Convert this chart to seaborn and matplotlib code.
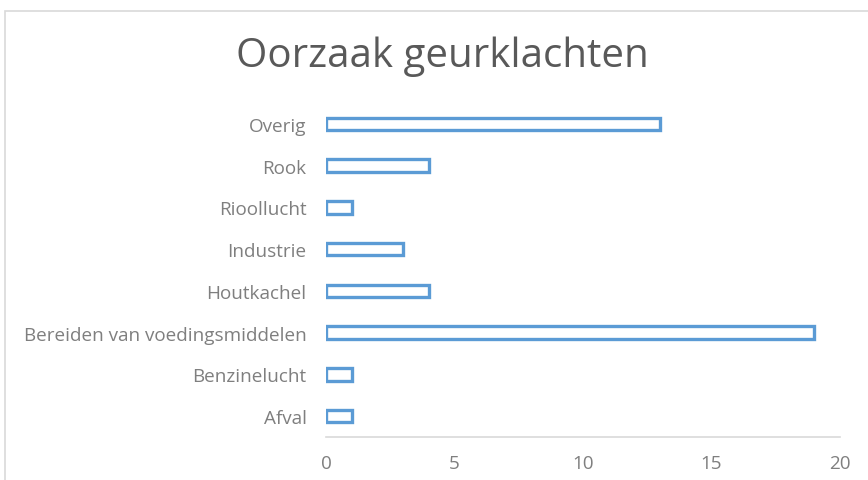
import pandas as pd
import matplotlib.pyplot as plt
from matplotlib.patches import Rectangle
import seaborn as sns

categories = ['Overig', 'Rook', 'Rioollucht', 'Industrie', 'Houtkachel',
              'Bereiden van voedingsmiddelen', 'Benzinelucht', 'Afval']
counts = [13, 4, 1, 3, 4, 19, 1, 1]

df = pd.DataFrame({'oorzaak': categories, 'aantal': counts})

sns.set_style('white')
plt.rcParams['font.family'] = ['Open Sans', 'DejaVu Sans']

fig = plt.figure(figsize=(8.68, 4.81), dpi=100)
ax = fig.add_axes([326 / 868, 43 / 481, 514 / 868, 334 / 481])

sns.barplot(data=df, x='aantal', y='oorzaak', order=categories, color='white',
            edgecolor='#5B9BD5', linewidth=2.4, width=0.3, ax=ax)

ax.set_xlim(0, 20)
ax.set_xticks([0, 5, 10, 15, 20])
ax.set_xlabel('')
ax.set_ylabel('')
ax.tick_params(axis='both', length=0, colors='#7F7F7F', labelsize=13.6)
ax.tick_params(axis='x', pad=12)
ax.tick_params(axis='y', pad=14)
for s in ['top', 'right', 'left']:
    ax.spines[s].set_visible(False)
ax.spines['bottom'].set_color('#D9D9D9')
ax.spines['bottom'].set_linewidth(1.2)

fig.text(442 / 868, 1 - 67 / 481, 'Oorzaak geurklachten', ha='center', va='baseline',
         fontsize=29, color='#595959')

# chart frame (cropped at right and bottom)
fig.patches.append(Rectangle((5 / 868, -0.1), 1.2, 0.1 + (481 - 12) / 481,
                             transform=fig.transFigure, fill=False,
                             edgecolor='#D9D9D9', linewidth=1.2))

fig.savefig('out.png', dpi=100)
